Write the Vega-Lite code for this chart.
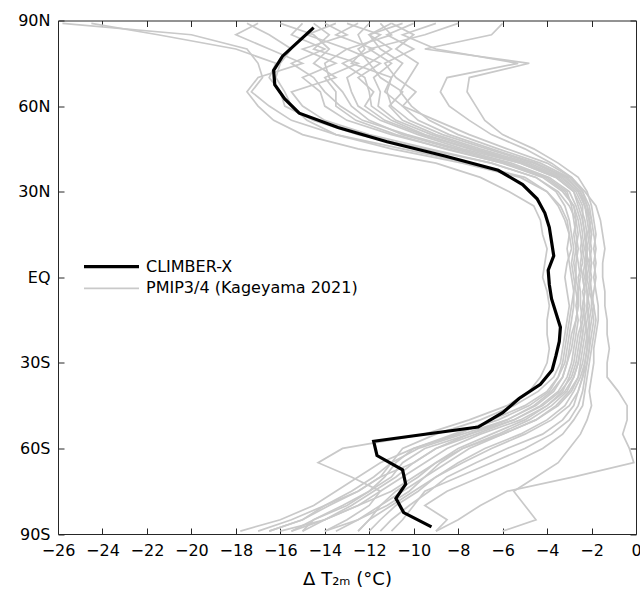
{
"$schema":"https://vega.github.io/schema/vega-lite/v6.json",
"width":578,"height":513.5,
"autosize":{"type":"none"},
"padding":{"left":58,"top":20.5,"right":4,"bottom":62},
"background":"white",
"config":{"view":{"stroke":null},"font":"DejaVu Sans",
"axis":{"labelFont":"DejaVu Sans","labelFontSize":16,"labelColor":"black","titleFont":"DejaVu Sans","titleFontSize":18,"titleFontWeight":"normal","titleColor":"black","domainColor":"#262626","tickColor":"#262626","tickSize":-6,"grid":false,"labelFlush":false,"labelOverlap":false,"labelPadding":14},
"legend":{"orient":"none","legendX":45.5,"legendY":238.2,"title":null,"symbolType":"M-4.583,0L4.583,0","symbolSize":144,"labelFontSize":16,"labelFont":"DejaVu Sans","labelColor":"black","labelLimit":0,"labelOffset":26.5,"symbolOffset":0,"rowPadding":5.6,"padding":0,"symbolStrokeWidth":2}
},
"datasets":{
"cx":[
{"lat":87.5,"t":-14.5},{"lat":82.5,"t":-15.2},{"lat":77.5,"t":-15.9},{"lat":72.5,"t":-16.3},{"lat":67.5,"t":-16.25},{"lat":62.5,"t":-15.8},{"lat":57.5,"t":-15.15},{"lat":52.5,"t":-13.4},{"lat":47.5,"t":-11.2},{"lat":42.5,"t":-8.6},{"lat":37.5,"t":-6.2},{"lat":32.5,"t":-5.1},{"lat":27.5,"t":-4.45},{"lat":22.5,"t":-4.1},{"lat":17.5,"t":-3.9},{"lat":12.5,"t":-3.8},{"lat":7.5,"t":-3.7},{"lat":2.5,"t":-3.95},{"lat":-2.5,"t":-3.9},{"lat":-7.5,"t":-3.8},{"lat":-12.5,"t":-3.6},{"lat":-17.5,"t":-3.4},{"lat":-22.5,"t":-3.45},{"lat":-27.5,"t":-3.6},{"lat":-32.5,"t":-3.77},{"lat":-37.5,"t":-4.3},{"lat":-42.5,"t":-5.26},{"lat":-47.5,"t":-6.0},{"lat":-52.5,"t":-7.1},{"lat":-57.5,"t":-11.8},{"lat":-62.5,"t":-11.65},{"lat":-67.5,"t":-10.5},{"lat":-72.5,"t":-10.36},{"lat":-77.5,"t":-10.8},{"lat":-82.5,"t":-10.45},{"lat":-87.5,"t":-9.2}
],
"pm":[
{"m":"A","lat":89,"t":-25.8},{"m":"A","lat":85,"t":-20},{"m":"A","lat":80,"t":-17.5},{"m":"A","lat":75,"t":-17},{"m":"A","lat":70,"t":-16.8},{"m":"A","lat":65,"t":-17.3},{"m":"A","lat":60,"t":-16.5},{"m":"A","lat":55,"t":-15.5},{"m":"A","lat":50,"t":-13.5},{"m":"A","lat":45,"t":-10.5},{"m":"A","lat":40,"t":-7.5},{"m":"A","lat":35,"t":-5},{"m":"A","lat":30,"t":-4},{"m":"A","lat":25,"t":-3.5},{"m":"A","lat":20,"t":-3.2},{"m":"A","lat":15,"t":-3},{"m":"A","lat":10,"t":-3.1},{"m":"A","lat":5,"t":-3},{"m":"A","lat":0,"t":-2.9},{"m":"A","lat":-5,"t":-2.8},{"m":"A","lat":-10,"t":-2.9},{"m":"A","lat":-15,"t":-3},{"m":"A","lat":-20,"t":-3.1},{"m":"A","lat":-25,"t":-3.2},{"m":"A","lat":-30,"t":-3.3},{"m":"A","lat":-35,"t":-3.5},{"m":"A","lat":-40,"t":-4},{"m":"A","lat":-45,"t":-5},{"m":"A","lat":-50,"t":-6.5},{"m":"A","lat":-55,"t":-8},{"m":"A","lat":-60,"t":-10},{"m":"A","lat":-65,"t":-11.5},{"m":"A","lat":-70,"t":-12.5},{"m":"A","lat":-75,"t":-13.5},{"m":"A","lat":-80,"t":-14.5},{"m":"A","lat":-85,"t":-16},{"m":"A","lat":-89,"t":-17.8},
{"m":"B","lat":89,"t":-24.5},{"m":"B","lat":85,"t":-21.5},{"m":"B","lat":80,"t":-18},{"m":"B","lat":75,"t":-16.2},{"m":"B","lat":70,"t":-16.5},{"m":"B","lat":65,"t":-16},{"m":"B","lat":60,"t":-15.8},{"m":"B","lat":55,"t":-14.5},{"m":"B","lat":50,"t":-12.5},{"m":"B","lat":45,"t":-9.5},{"m":"B","lat":40,"t":-6.5},{"m":"B","lat":35,"t":-4.5},{"m":"B","lat":30,"t":-3.6},{"m":"B","lat":25,"t":-3.2},{"m":"B","lat":20,"t":-3},{"m":"B","lat":15,"t":-2.9},{"m":"B","lat":10,"t":-2.8},{"m":"B","lat":5,"t":-2.9},{"m":"B","lat":0,"t":-2.8},{"m":"B","lat":-5,"t":-2.7},{"m":"B","lat":-10,"t":-2.6},{"m":"B","lat":-15,"t":-2.7},{"m":"B","lat":-20,"t":-2.8},{"m":"B","lat":-25,"t":-2.9},{"m":"B","lat":-30,"t":-3.1},{"m":"B","lat":-35,"t":-3.3},{"m":"B","lat":-40,"t":-3.8},{"m":"B","lat":-45,"t":-4.6},{"m":"B","lat":-50,"t":-5.8},{"m":"B","lat":-55,"t":-7.5},{"m":"B","lat":-60,"t":-9},{"m":"B","lat":-65,"t":-10},{"m":"B","lat":-70,"t":-11.5},{"m":"B","lat":-75,"t":-12.5},{"m":"B","lat":-80,"t":-13.8},{"m":"B","lat":-85,"t":-15},{"m":"B","lat":-89,"t":-16.5},
{"m":"C","lat":89,"t":-17},{"m":"C","lat":85,"t":-18},{"m":"C","lat":80,"t":-16.5},{"m":"C","lat":75,"t":-15},{"m":"C","lat":70,"t":-17},{"m":"C","lat":65,"t":-17.5},{"m":"C","lat":60,"t":-17},{"m":"C","lat":55,"t":-16.3},{"m":"C","lat":50,"t":-15},{"m":"C","lat":45,"t":-12.5},{"m":"C","lat":40,"t":-9},{"m":"C","lat":35,"t":-7},{"m":"C","lat":30,"t":-5.7},{"m":"C","lat":25,"t":-4.6},{"m":"C","lat":20,"t":-4.3},{"m":"C","lat":15,"t":-4.2},{"m":"C","lat":10,"t":-4},{"m":"C","lat":5,"t":-4.1},{"m":"C","lat":0,"t":-4.2},{"m":"C","lat":-5,"t":-4},{"m":"C","lat":-10,"t":-3.9},{"m":"C","lat":-15,"t":-4},{"m":"C","lat":-20,"t":-4},{"m":"C","lat":-25,"t":-3.9},{"m":"C","lat":-30,"t":-4},{"m":"C","lat":-35,"t":-4.3},{"m":"C","lat":-40,"t":-4.8},{"m":"C","lat":-45,"t":-5.8},{"m":"C","lat":-50,"t":-7.5},{"m":"C","lat":-55,"t":-9.5},{"m":"C","lat":-60,"t":-13.2},{"m":"C","lat":-65,"t":-14.3},{"m":"C","lat":-70,"t":-12.8},{"m":"C","lat":-75,"t":-11.5},{"m":"C","lat":-80,"t":-12.5},{"m":"C","lat":-85,"t":-14},{"m":"C","lat":-89,"t":-15},
{"m":"D","lat":89,"t":-9},{"m":"D","lat":85,"t":-10.5},{"m":"D","lat":80,"t":-9},{"m":"D","lat":75,"t":-5.3},{"m":"D","lat":70,"t":-8.5},{"m":"D","lat":65,"t":-8.8},{"m":"D","lat":60,"t":-8.4},{"m":"D","lat":55,"t":-7.5},{"m":"D","lat":50,"t":-6.5},{"m":"D","lat":45,"t":-5},{"m":"D","lat":40,"t":-3.8},{"m":"D","lat":35,"t":-2.9},{"m":"D","lat":30,"t":-2.4},{"m":"D","lat":25,"t":-2.2},{"m":"D","lat":20,"t":-2.1},{"m":"D","lat":15,"t":-2},{"m":"D","lat":10,"t":-2.1},{"m":"D","lat":5,"t":-2},{"m":"D","lat":0,"t":-2.1},{"m":"D","lat":-5,"t":-2},{"m":"D","lat":-10,"t":-1.9},{"m":"D","lat":-15,"t":-1.8},{"m":"D","lat":-20,"t":-1.9},{"m":"D","lat":-25,"t":-2},{"m":"D","lat":-30,"t":-2.1},{"m":"D","lat":-35,"t":-2.2},{"m":"D","lat":-40,"t":-2.3},{"m":"D","lat":-45,"t":-2.4},{"m":"D","lat":-50,"t":-2.8},{"m":"D","lat":-55,"t":-3.3},{"m":"D","lat":-60,"t":-4.2},{"m":"D","lat":-65,"t":-5.5},{"m":"D","lat":-70,"t":-7},{"m":"D","lat":-75,"t":-8.5},{"m":"D","lat":-80,"t":-9.5},{"m":"D","lat":-85,"t":-8.5},{"m":"D","lat":-89,"t":-9},
{"m":"E","lat":89,"t":-6},{"m":"E","lat":85,"t":-6.5},{"m":"E","lat":80,"t":-9.5},{"m":"E","lat":75,"t":-4.8},{"m":"E","lat":70,"t":-7.5},{"m":"E","lat":65,"t":-7.6},{"m":"E","lat":60,"t":-7.2},{"m":"E","lat":55,"t":-6.8},{"m":"E","lat":50,"t":-6},{"m":"E","lat":45,"t":-4.6},{"m":"E","lat":40,"t":-3.5},{"m":"E","lat":35,"t":-2.6},{"m":"E","lat":30,"t":-2.2},{"m":"E","lat":25,"t":-2},{"m":"E","lat":20,"t":-1.9},{"m":"E","lat":15,"t":-1.8},{"m":"E","lat":10,"t":-1.9},{"m":"E","lat":5,"t":-1.8},{"m":"E","lat":0,"t":-1.9},{"m":"E","lat":-5,"t":-1.8},{"m":"E","lat":-10,"t":-1.7},{"m":"E","lat":-15,"t":-1.7},{"m":"E","lat":-20,"t":-1.8},{"m":"E","lat":-25,"t":-1.9},{"m":"E","lat":-30,"t":-1.9},{"m":"E","lat":-35,"t":-2},{"m":"E","lat":-40,"t":-2.1},{"m":"E","lat":-45,"t":-2},{"m":"E","lat":-50,"t":-2.2},{"m":"E","lat":-55,"t":-2.5},{"m":"E","lat":-60,"t":-3},{"m":"E","lat":-65,"t":-3.5},{"m":"E","lat":-70,"t":-4.5},{"m":"E","lat":-75,"t":-5.5},{"m":"E","lat":-80,"t":-5},{"m":"E","lat":-85,"t":-4.5},{"m":"E","lat":-89,"t":-6},
{"m":"F","lat":89,"t":-11},{"m":"F","lat":85,"t":-12},{"m":"F","lat":80,"t":-11.5},{"m":"F","lat":75,"t":-10.5},{"m":"F","lat":70,"t":-11},{"m":"F","lat":65,"t":-11.3},{"m":"F","lat":60,"t":-10.5},{"m":"F","lat":55,"t":-9},{"m":"F","lat":50,"t":-7.5},{"m":"F","lat":45,"t":-5.8},{"m":"F","lat":40,"t":-4},{"m":"F","lat":35,"t":-2.9},{"m":"F","lat":30,"t":-2.3},{"m":"F","lat":25,"t":-1.8},{"m":"F","lat":20,"t":-1.6},{"m":"F","lat":15,"t":-1.5},{"m":"F","lat":10,"t":-1.4},{"m":"F","lat":5,"t":-1.5},{"m":"F","lat":0,"t":-1.5},{"m":"F","lat":-5,"t":-1.4},{"m":"F","lat":-10,"t":-1.4},{"m":"F","lat":-15,"t":-1.3},{"m":"F","lat":-20,"t":-1.3},{"m":"F","lat":-25,"t":-1.2},{"m":"F","lat":-30,"t":-1.3},{"m":"F","lat":-35,"t":-1.3},{"m":"F","lat":-40,"t":-0.8},{"m":"F","lat":-45,"t":-0.4},{"m":"F","lat":-50,"t":-0.4},{"m":"F","lat":-55,"t":-0.6},{"m":"F","lat":-60,"t":-0.3},{"m":"F","lat":-65,"t":-0.1},{"m":"F","lat":-70,"t":-2.8},{"m":"F","lat":-75,"t":-5.8},{"m":"F","lat":-80,"t":-7},{"m":"F","lat":-85,"t":-8},{"m":"F","lat":-89,"t":-9},
{"m":"G","lat":89,"t":-14},{"m":"G","lat":85,"t":-13},{"m":"G","lat":80,"t":-15},{"m":"G","lat":75,"t":-13.5},{"m":"G","lat":70,"t":-15},{"m":"G","lat":65,"t":-14.2},{"m":"G","lat":60,"t":-14},{"m":"G","lat":55,"t":-13},{"m":"G","lat":50,"t":-11},{"m":"G","lat":45,"t":-8.5},{"m":"G","lat":40,"t":-6},{"m":"G","lat":35,"t":-4.2},{"m":"G","lat":30,"t":-3.3},{"m":"G","lat":25,"t":-2.8},{"m":"G","lat":20,"t":-2.6},{"m":"G","lat":15,"t":-2.5},{"m":"G","lat":10,"t":-2.4},{"m":"G","lat":5,"t":-2.5},{"m":"G","lat":0,"t":-2.4},{"m":"G","lat":-5,"t":-2.3},{"m":"G","lat":-10,"t":-2.4},{"m":"G","lat":-15,"t":-2.5},{"m":"G","lat":-20,"t":-2.4},{"m":"G","lat":-25,"t":-2.5},{"m":"G","lat":-30,"t":-2.6},{"m":"G","lat":-35,"t":-2.8},{"m":"G","lat":-40,"t":-3.2},{"m":"G","lat":-45,"t":-4},{"m":"G","lat":-50,"t":-5.2},{"m":"G","lat":-55,"t":-7},{"m":"G","lat":-60,"t":-8.5},{"m":"G","lat":-65,"t":-9.5},{"m":"G","lat":-70,"t":-10.5},{"m":"G","lat":-75,"t":-11.5},{"m":"G","lat":-80,"t":-12},{"m":"G","lat":-85,"t":-13},{"m":"G","lat":-89,"t":-14},
{"m":"H","lat":89,"t":-13},{"m":"H","lat":85,"t":-11.5},{"m":"H","lat":80,"t":-12.5},{"m":"H","lat":75,"t":-12},{"m":"H","lat":70,"t":-13},{"m":"H","lat":65,"t":-12.8},{"m":"H","lat":60,"t":-12.5},{"m":"H","lat":55,"t":-11.5},{"m":"H","lat":50,"t":-9.8},{"m":"H","lat":45,"t":-7.8},{"m":"H","lat":40,"t":-5.2},{"m":"H","lat":35,"t":-3.6},{"m":"H","lat":30,"t":-2.8},{"m":"H","lat":25,"t":-2.5},{"m":"H","lat":20,"t":-2.3},{"m":"H","lat":15,"t":-2.2},{"m":"H","lat":10,"t":-2.3},{"m":"H","lat":5,"t":-2.2},{"m":"H","lat":0,"t":-2.3},{"m":"H","lat":-5,"t":-2.2},{"m":"H","lat":-10,"t":-2.1},{"m":"H","lat":-15,"t":-2.2},{"m":"H","lat":-20,"t":-2.3},{"m":"H","lat":-25,"t":-2.4},{"m":"H","lat":-30,"t":-2.5},{"m":"H","lat":-35,"t":-2.6},{"m":"H","lat":-40,"t":-3},{"m":"H","lat":-45,"t":-3.6},{"m":"H","lat":-50,"t":-4.5},{"m":"H","lat":-55,"t":-6},{"m":"H","lat":-60,"t":-7.5},{"m":"H","lat":-65,"t":-8.5},{"m":"H","lat":-70,"t":-9.5},{"m":"H","lat":-75,"t":-10.5},{"m":"H","lat":-80,"t":-11.5},{"m":"H","lat":-85,"t":-12.5},{"m":"H","lat":-89,"t":-13.5},
{"m":"I","lat":89,"t":-16},{"m":"I","lat":85,"t":-14.5},{"m":"I","lat":80,"t":-13.8},{"m":"I","lat":75,"t":-14.5},{"m":"I","lat":70,"t":-13.5},{"m":"I","lat":65,"t":-15.5},{"m":"I","lat":60,"t":-15},{"m":"I","lat":55,"t":-14},{"m":"I","lat":50,"t":-12},{"m":"I","lat":45,"t":-9.3},{"m":"I","lat":40,"t":-6.5},{"m":"I","lat":35,"t":-4.5},{"m":"I","lat":30,"t":-3.5},{"m":"I","lat":25,"t":-3},{"m":"I","lat":20,"t":-2.7},{"m":"I","lat":15,"t":-2.6},{"m":"I","lat":10,"t":-2.7},{"m":"I","lat":5,"t":-2.6},{"m":"I","lat":0,"t":-2.5},{"m":"I","lat":-5,"t":-2.6},{"m":"I","lat":-10,"t":-2.7},{"m":"I","lat":-15,"t":-2.6},{"m":"I","lat":-20,"t":-2.7},{"m":"I","lat":-25,"t":-2.8},{"m":"I","lat":-30,"t":-2.9},{"m":"I","lat":-35,"t":-3.1},{"m":"I","lat":-40,"t":-3.5},{"m":"I","lat":-45,"t":-4.3},{"m":"I","lat":-50,"t":-5.5},{"m":"I","lat":-55,"t":-7.5},{"m":"I","lat":-60,"t":-9.5},{"m":"I","lat":-65,"t":-10.5},{"m":"I","lat":-70,"t":-11},{"m":"I","lat":-75,"t":-12},{"m":"I","lat":-80,"t":-13},{"m":"I","lat":-85,"t":-14.5},{"m":"I","lat":-89,"t":-15.5},
{"m":"J","lat":89,"t":-10.5},{"m":"J","lat":85,"t":-12},{"m":"J","lat":80,"t":-11},{"m":"J","lat":75,"t":-12},{"m":"J","lat":70,"t":-11.5},{"m":"J","lat":65,"t":-10.5},{"m":"J","lat":60,"t":-11.1},{"m":"J","lat":55,"t":-10.5},{"m":"J","lat":50,"t":-9},{"m":"J","lat":45,"t":-7},{"m":"J","lat":40,"t":-4.8},{"m":"J","lat":35,"t":-3.3},{"m":"J","lat":30,"t":-2.6},{"m":"J","lat":25,"t":-2.3},{"m":"J","lat":20,"t":-2.2},{"m":"J","lat":15,"t":-2.1},{"m":"J","lat":10,"t":-2},{"m":"J","lat":5,"t":-2.1},{"m":"J","lat":0,"t":-2},{"m":"J","lat":-5,"t":-2.1},{"m":"J","lat":-10,"t":-2.2},{"m":"J","lat":-15,"t":-2.1},{"m":"J","lat":-20,"t":-2.2},{"m":"J","lat":-25,"t":-2.2},{"m":"J","lat":-30,"t":-2.3},{"m":"J","lat":-35,"t":-2.5},{"m":"J","lat":-40,"t":-2.8},{"m":"J","lat":-45,"t":-3.2},{"m":"J","lat":-50,"t":-4},{"m":"J","lat":-55,"t":-5.2},{"m":"J","lat":-60,"t":-6.8},{"m":"J","lat":-65,"t":-8},{"m":"J","lat":-70,"t":-9},{"m":"J","lat":-75,"t":-10},{"m":"J","lat":-80,"t":-11},{"m":"J","lat":-85,"t":-12},{"m":"J","lat":-89,"t":-12.5},
{"m":"K","lat":89,"t":-12.5},{"m":"K","lat":85,"t":-13.5},{"m":"K","lat":80,"t":-11.8},{"m":"K","lat":75,"t":-13.2},{"m":"K","lat":70,"t":-12.2},{"m":"K","lat":65,"t":-12},{"m":"K","lat":60,"t":-11.9},{"m":"K","lat":55,"t":-11},{"m":"K","lat":50,"t":-9.5},{"m":"K","lat":45,"t":-7.4},{"m":"K","lat":40,"t":-5},{"m":"K","lat":35,"t":-3.5},{"m":"K","lat":30,"t":-2.7},{"m":"K","lat":25,"t":-2.4},{"m":"K","lat":20,"t":-2.4},{"m":"K","lat":15,"t":-2.3},{"m":"K","lat":10,"t":-2.2},{"m":"K","lat":5,"t":-2.3},{"m":"K","lat":0,"t":-2.2},{"m":"K","lat":-5,"t":-2.4},{"m":"K","lat":-10,"t":-2.3},{"m":"K","lat":-15,"t":-2.4},{"m":"K","lat":-20,"t":-2.5},{"m":"K","lat":-25,"t":-2.6},{"m":"K","lat":-30,"t":-2.7},{"m":"K","lat":-35,"t":-2.9},{"m":"K","lat":-40,"t":-3.4},{"m":"K","lat":-45,"t":-4.2},{"m":"K","lat":-50,"t":-5.5},{"m":"K","lat":-55,"t":-7.2},{"m":"K","lat":-60,"t":-9},{"m":"K","lat":-65,"t":-10},{"m":"K","lat":-70,"t":-10.8},{"m":"K","lat":-75,"t":-11.8},{"m":"K","lat":-80,"t":-12.8},{"m":"K","lat":-85,"t":-14},{"m":"K","lat":-89,"t":-15.5},
{"m":"L","lat":89,"t":-11},{"m":"L","lat":85,"t":-10},{"m":"L","lat":80,"t":-10.8},{"m":"L","lat":75,"t":-9.8},{"m":"L","lat":70,"t":-10.2},{"m":"L","lat":65,"t":-10.6},{"m":"L","lat":60,"t":-10.1},{"m":"L","lat":55,"t":-9.3},{"m":"L","lat":50,"t":-8},{"m":"L","lat":45,"t":-6.2},{"m":"L","lat":40,"t":-4.3},{"m":"L","lat":35,"t":-3},{"m":"L","lat":30,"t":-2.4},{"m":"L","lat":25,"t":-2.1},{"m":"L","lat":20,"t":-2},{"m":"L","lat":15,"t":-1.9},{"m":"L","lat":10,"t":-1.8},{"m":"L","lat":5,"t":-1.9},{"m":"L","lat":0,"t":-1.8},{"m":"L","lat":-5,"t":-1.9},{"m":"L","lat":-10,"t":-2},{"m":"L","lat":-15,"t":-1.9},{"m":"L","lat":-20,"t":-2},{"m":"L","lat":-25,"t":-2.1},{"m":"L","lat":-30,"t":-2.2},{"m":"L","lat":-35,"t":-2.3},{"m":"L","lat":-40,"t":-2.4},{"m":"L","lat":-45,"t":-2.6},{"m":"L","lat":-50,"t":-3},{"m":"L","lat":-55,"t":-3.8},{"m":"L","lat":-60,"t":-5},{"m":"L","lat":-65,"t":-6.5},{"m":"L","lat":-70,"t":-8},{"m":"L","lat":-75,"t":-9.5},{"m":"L","lat":-80,"t":-10},{"m":"L","lat":-85,"t":-10.5},{"m":"L","lat":-89,"t":-11},
{"m":"M","lat":89,"t":-15},{"m":"M","lat":85,"t":-15.5},{"m":"M","lat":80,"t":-14},{"m":"M","lat":75,"t":-15.5},{"m":"M","lat":70,"t":-14.5},{"m":"M","lat":65,"t":-14},{"m":"M","lat":60,"t":-13.3},{"m":"M","lat":55,"t":-12.3},{"m":"M","lat":50,"t":-10.3},{"m":"M","lat":45,"t":-8},{"m":"M","lat":40,"t":-5.6},{"m":"M","lat":35,"t":-3.9},{"m":"M","lat":30,"t":-3},{"m":"M","lat":25,"t":-2.7},{"m":"M","lat":20,"t":-2.5},{"m":"M","lat":15,"t":-2.4},{"m":"M","lat":10,"t":-2.5},{"m":"M","lat":5,"t":-2.4},{"m":"M","lat":0,"t":-2.6},{"m":"M","lat":-5,"t":-2.5},{"m":"M","lat":-10,"t":-2.5},{"m":"M","lat":-15,"t":-2.4},{"m":"M","lat":-20,"t":-2.6},{"m":"M","lat":-25,"t":-2.7},{"m":"M","lat":-30,"t":-2.8},{"m":"M","lat":-35,"t":-3},{"m":"M","lat":-40,"t":-3.3},{"m":"M","lat":-45,"t":-4},{"m":"M","lat":-50,"t":-5},{"m":"M","lat":-55,"t":-6.5},{"m":"M","lat":-60,"t":-8},{"m":"M","lat":-65,"t":-9},{"m":"M","lat":-70,"t":-10},{"m":"M","lat":-75,"t":-11},{"m":"M","lat":-80,"t":-12.5},{"m":"M","lat":-85,"t":-14},{"m":"M","lat":-89,"t":-16},
{"m":"N","lat":89,"t":-17.5},{"m":"N","lat":85,"t":-16.5},{"m":"N","lat":80,"t":-15.5},{"m":"N","lat":75,"t":-16},{"m":"N","lat":70,"t":-16.2},{"m":"N","lat":65,"t":-15.8},{"m":"N","lat":60,"t":-15.5},{"m":"N","lat":55,"t":-14.8},{"m":"N","lat":50,"t":-13.5},{"m":"N","lat":45,"t":-11},{"m":"N","lat":40,"t":-7.8},{"m":"N","lat":35,"t":-5.2},{"m":"N","lat":30,"t":-4},{"m":"N","lat":25,"t":-3.4},{"m":"N","lat":20,"t":-3.1},{"m":"N","lat":15,"t":-3},{"m":"N","lat":10,"t":-2.9},{"m":"N","lat":5,"t":-3.1},{"m":"N","lat":0,"t":-3.2},{"m":"N","lat":-5,"t":-3.1},{"m":"N","lat":-10,"t":-3},{"m":"N","lat":-15,"t":-3.1},{"m":"N","lat":-20,"t":-3.2},{"m":"N","lat":-25,"t":-3.3},{"m":"N","lat":-30,"t":-3.4},{"m":"N","lat":-35,"t":-3.7},{"m":"N","lat":-40,"t":-4.4},{"m":"N","lat":-45,"t":-5.5},{"m":"N","lat":-50,"t":-7},{"m":"N","lat":-55,"t":-9},{"m":"N","lat":-60,"t":-10.5},{"m":"N","lat":-65,"t":-11},{"m":"N","lat":-70,"t":-11.5},{"m":"N","lat":-75,"t":-12.5},{"m":"N","lat":-80,"t":-14},{"m":"N","lat":-85,"t":-15.5},{"m":"N","lat":-89,"t":-17},
{"m":"O","lat":89,"t":-8},{"m":"O","lat":85,"t":-9.5},{"m":"O","lat":80,"t":-12},{"m":"O","lat":75,"t":-11},{"m":"O","lat":70,"t":-11.8},{"m":"O","lat":65,"t":-11.5},{"m":"O","lat":60,"t":-11.6},{"m":"O","lat":55,"t":-10.8},{"m":"O","lat":50,"t":-9.2},{"m":"O","lat":45,"t":-7.2},{"m":"O","lat":40,"t":-5},{"m":"O","lat":35,"t":-3.4},{"m":"O","lat":30,"t":-2.6},{"m":"O","lat":25,"t":-2.3},{"m":"O","lat":20,"t":-2.1},{"m":"O","lat":15,"t":-2.1},{"m":"O","lat":10,"t":-2.2},{"m":"O","lat":5,"t":-2.2},{"m":"O","lat":0,"t":-2.3},{"m":"O","lat":-5,"t":-2.2},{"m":"O","lat":-10,"t":-2.2},{"m":"O","lat":-15,"t":-2.3},{"m":"O","lat":-20,"t":-2.2},{"m":"O","lat":-25,"t":-2.3},{"m":"O","lat":-30,"t":-2.4},{"m":"O","lat":-35,"t":-2.6},{"m":"O","lat":-40,"t":-2.9},{"m":"O","lat":-45,"t":-3.5},{"m":"O","lat":-50,"t":-4.5},{"m":"O","lat":-55,"t":-6},{"m":"O","lat":-60,"t":-7.8},{"m":"O","lat":-65,"t":-9},{"m":"O","lat":-70,"t":-9.8},{"m":"O","lat":-75,"t":-10.8},{"m":"O","lat":-80,"t":-11.5},{"m":"O","lat":-85,"t":-12},{"m":"O","lat":-89,"t":-12.5},
{"m":"P","lat":89,"t":-13.5},{"m":"P","lat":85,"t":-14.8},{"m":"P","lat":80,"t":-13},{"m":"P","lat":75,"t":-14},{"m":"P","lat":70,"t":-13.8},{"m":"P","lat":65,"t":-13.2},{"m":"P","lat":60,"t":-12.8},{"m":"P","lat":55,"t":-12},{"m":"P","lat":50,"t":-10.5},{"m":"P","lat":45,"t":-8.2},{"m":"P","lat":40,"t":-5.8},{"m":"P","lat":35,"t":-4},{"m":"P","lat":30,"t":-3.1},{"m":"P","lat":25,"t":-2.9},{"m":"P","lat":20,"t":-2.8},{"m":"P","lat":15,"t":-2.7},{"m":"P","lat":10,"t":-2.6},{"m":"P","lat":5,"t":-2.7},{"m":"P","lat":0,"t":-2.7},{"m":"P","lat":-5,"t":-2.6},{"m":"P","lat":-10,"t":-2.6},{"m":"P","lat":-15,"t":-2.7},{"m":"P","lat":-20,"t":-2.9},{"m":"P","lat":-25,"t":-3},{"m":"P","lat":-30,"t":-3.1},{"m":"P","lat":-35,"t":-3.3},{"m":"P","lat":-40,"t":-3.7},{"m":"P","lat":-45,"t":-4.5},{"m":"P","lat":-50,"t":-5.8},{"m":"P","lat":-55,"t":-7.8},{"m":"P","lat":-60,"t":-9.8},{"m":"P","lat":-65,"t":-11},{"m":"P","lat":-70,"t":-11.8},{"m":"P","lat":-75,"t":-12.8},{"m":"P","lat":-80,"t":-14},{"m":"P","lat":-85,"t":-15},{"m":"P","lat":-89,"t":-16.5},
{"m":"Q","lat":89,"t":-11.5},{"m":"Q","lat":85,"t":-11},{"m":"Q","lat":80,"t":-13},{"m":"Q","lat":75,"t":-11.5},{"m":"Q","lat":70,"t":-12.5},{"m":"Q","lat":65,"t":-11.8},{"m":"Q","lat":60,"t":-12.2},{"m":"Q","lat":55,"t":-11.3},{"m":"Q","lat":50,"t":-9.6},{"m":"Q","lat":45,"t":-7.5},{"m":"Q","lat":40,"t":-5.2},{"m":"Q","lat":35,"t":-3.6},{"m":"Q","lat":30,"t":-2.8},{"m":"Q","lat":25,"t":-2.6},{"m":"Q","lat":20,"t":-2.4},{"m":"Q","lat":15,"t":-2.3},{"m":"Q","lat":10,"t":-2.4},{"m":"Q","lat":5,"t":-2.3},{"m":"Q","lat":0,"t":-2.4},{"m":"Q","lat":-5,"t":-2.3},{"m":"Q","lat":-10,"t":-2.4},{"m":"Q","lat":-15,"t":-2.3},{"m":"Q","lat":-20,"t":-2.4},{"m":"Q","lat":-25,"t":-2.5},{"m":"Q","lat":-30,"t":-2.6},{"m":"Q","lat":-35,"t":-2.8},{"m":"Q","lat":-40,"t":-3.1},{"m":"Q","lat":-45,"t":-3.8},{"m":"Q","lat":-50,"t":-4.8},{"m":"Q","lat":-55,"t":-6.2},{"m":"Q","lat":-60,"t":-7.8},{"m":"Q","lat":-65,"t":-8.8},{"m":"Q","lat":-70,"t":-9.5},{"m":"Q","lat":-75,"t":-10.2},{"m":"Q","lat":-80,"t":-11.2},{"m":"Q","lat":-85,"t":-12.5},{"m":"Q","lat":-89,"t":-14},
{"m":"R","lat":89,"t":-12},{"m":"R","lat":85,"t":-12.5},{"m":"R","lat":80,"t":-12.2},{"m":"R","lat":75,"t":-12.8},{"m":"R","lat":70,"t":-11},{"m":"R","lat":65,"t":-11.2},{"m":"R","lat":60,"t":-11},{"m":"R","lat":55,"t":-10.2},{"m":"R","lat":50,"t":-8.7},{"m":"R","lat":45,"t":-6.7},{"m":"R","lat":40,"t":-4.6},{"m":"R","lat":35,"t":-3.2},{"m":"R","lat":30,"t":-2.5},{"m":"R","lat":25,"t":-2.3},{"m":"R","lat":20,"t":-2.1},{"m":"R","lat":15,"t":-2},{"m":"R","lat":10,"t":-2.1},{"m":"R","lat":5,"t":-2},{"m":"R","lat":0,"t":-2.1},{"m":"R","lat":-5,"t":-2},{"m":"R","lat":-10,"t":-2},{"m":"R","lat":-15,"t":-2.1},{"m":"R","lat":-20,"t":-2.1},{"m":"R","lat":-25,"t":-2.2},{"m":"R","lat":-30,"t":-2.3},{"m":"R","lat":-35,"t":-2.4},{"m":"R","lat":-40,"t":-2.6},{"m":"R","lat":-45,"t":-3},{"m":"R","lat":-50,"t":-3.8},{"m":"R","lat":-55,"t":-5},{"m":"R","lat":-60,"t":-6.5},{"m":"R","lat":-65,"t":-7.8},{"m":"R","lat":-70,"t":-9},{"m":"R","lat":-75,"t":-9.8},{"m":"R","lat":-80,"t":-10.8},{"m":"R","lat":-85,"t":-11.5},{"m":"R","lat":-89,"t":-12},
{"m":"S","lat":89,"t":-14.5},{"m":"S","lat":85,"t":-13.8},{"m":"S","lat":80,"t":-14.5},{"m":"S","lat":75,"t":-12.5},{"m":"S","lat":70,"t":-14},{"m":"S","lat":65,"t":-13.5},{"m":"S","lat":60,"t":-13.5},{"m":"S","lat":55,"t":-12.6},{"m":"S","lat":50,"t":-10.8},{"m":"S","lat":45,"t":-8.6},{"m":"S","lat":40,"t":-6},{"m":"S","lat":35,"t":-4.1},{"m":"S","lat":30,"t":-3.2},{"m":"S","lat":25,"t":-2.8},{"m":"S","lat":20,"t":-2.7},{"m":"S","lat":15,"t":-2.8},{"m":"S","lat":10,"t":-2.7},{"m":"S","lat":5,"t":-2.8},{"m":"S","lat":0,"t":-2.7},{"m":"S","lat":-5,"t":-2.8},{"m":"S","lat":-10,"t":-2.8},{"m":"S","lat":-15,"t":-2.9},{"m":"S","lat":-20,"t":-3},{"m":"S","lat":-25,"t":-3.1},{"m":"S","lat":-30,"t":-3.2},{"m":"S","lat":-35,"t":-3.5},{"m":"S","lat":-40,"t":-3.9},{"m":"S","lat":-45,"t":-4.8},{"m":"S","lat":-50,"t":-6.2},{"m":"S","lat":-55,"t":-8.2},{"m":"S","lat":-60,"t":-10},{"m":"S","lat":-65,"t":-10.8},{"m":"S","lat":-70,"t":-11.3},{"m":"S","lat":-75,"t":-12},{"m":"S","lat":-80,"t":-13.2},{"m":"S","lat":-85,"t":-14.5},{"m":"S","lat":-89,"t":-15},
{"m":"T","lat":89,"t":-10},{"m":"T","lat":85,"t":-11.2},{"m":"T","lat":80,"t":-10},{"m":"T","lat":75,"t":-11.3},{"m":"T","lat":70,"t":-10.8},{"m":"T","lat":65,"t":-9.9},{"m":"T","lat":60,"t":-10.5},{"m":"T","lat":55,"t":-9.8},{"m":"T","lat":50,"t":-8.4},{"m":"T","lat":45,"t":-6.5},{"m":"T","lat":40,"t":-4.5},{"m":"T","lat":35,"t":-3.1},{"m":"T","lat":30,"t":-2.5},{"m":"T","lat":25,"t":-2.2},{"m":"T","lat":20,"t":-2},{"m":"T","lat":15,"t":-2.2},{"m":"T","lat":10,"t":-2.3},{"m":"T","lat":5,"t":-2.1},{"m":"T","lat":0,"t":-2.2},{"m":"T","lat":-5,"t":-2.1},{"m":"T","lat":-10,"t":-1.9},{"m":"T","lat":-15,"t":-2},{"m":"T","lat":-20,"t":-2.1},{"m":"T","lat":-25,"t":-2.1},{"m":"T","lat":-30,"t":-2.2},{"m":"T","lat":-35,"t":-2.4},{"m":"T","lat":-40,"t":-2.6},{"m":"T","lat":-45,"t":-2.8},{"m":"T","lat":-50,"t":-3.3},{"m":"T","lat":-55,"t":-4.2},{"m":"T","lat":-60,"t":-5.8},{"m":"T","lat":-65,"t":-7.2},{"m":"T","lat":-70,"t":-8.5},{"m":"T","lat":-75,"t":-9.3},{"m":"T","lat":-80,"t":-10.2},{"m":"T","lat":-85,"t":-11},{"m":"T","lat":-89,"t":-11.5}
]
},
"layer":[
{"data":{"name":"pm"},"mark":{"type":"line","strokeWidth":1.7},
"encoding":{
"x":{"field":"t","type":"quantitative","scale":{"domain":[-26,0],"nice":false,"zero":false},"axis":{"orient":"bottom","values":[-26,-24,-22,-20,-18,-16,-14,-12,-10,-8,-6,-4,-2,0],"title":"Δ T₂ₘ (°C)","titlePadding":12}},
"y":{"field":"lat","type":"quantitative","scale":{"domain":[-90,90],"nice":false,"zero":false},"axis":{"orient":"left","values":[-90,-60,-30,0,30,60,90],"labelExpr":"datum.value == 0 ? 'EQ' : (datum.value > 0 ? datum.value + 'N' : (-datum.value) + 'S')","title":null}},
"detail":{"field":"m","type":"nominal"},
"order":{"field":"lat","type":"quantitative"},
"color":{"datum":"PMIP3/4 (Kageyama 2021)","type":"nominal","scale":{"domain":["CLIMBER-X","PMIP3/4 (Kageyama 2021)"],"range":["#000000","#c9c9c9"]},"legend":{"title":null,"labelLimit":0,"encode":{"symbols":{"update":{"strokeWidth":{"signal":"(datum.value === 'CLIMBER-X' ? 3.2 : 1.7)"}}}}}}
}},
{"data":{"name":"cx"},"mark":{"type":"line","strokeWidth":3.2},
"encoding":{
"x":{"field":"t","type":"quantitative","scale":{"domain":[-26,0],"nice":false,"zero":false},"axis":{"orient":"top","values":[-26,-24,-22,-20,-18,-16,-14,-12,-10,-8,-6,-4,-2,0],"labels":false,"title":null}},
"y":{"field":"lat","type":"quantitative","scale":{"domain":[-90,90],"nice":false,"zero":false},"axis":{"orient":"right","values":[-90,-60,-30,0,30,60,90],"labels":false,"title":null}},
"order":{"field":"lat","type":"quantitative"},
"color":{"datum":"CLIMBER-X","type":"nominal"}
}}
],
"resolve":{"scale":{"x":"independent","y":"independent"}}
}
